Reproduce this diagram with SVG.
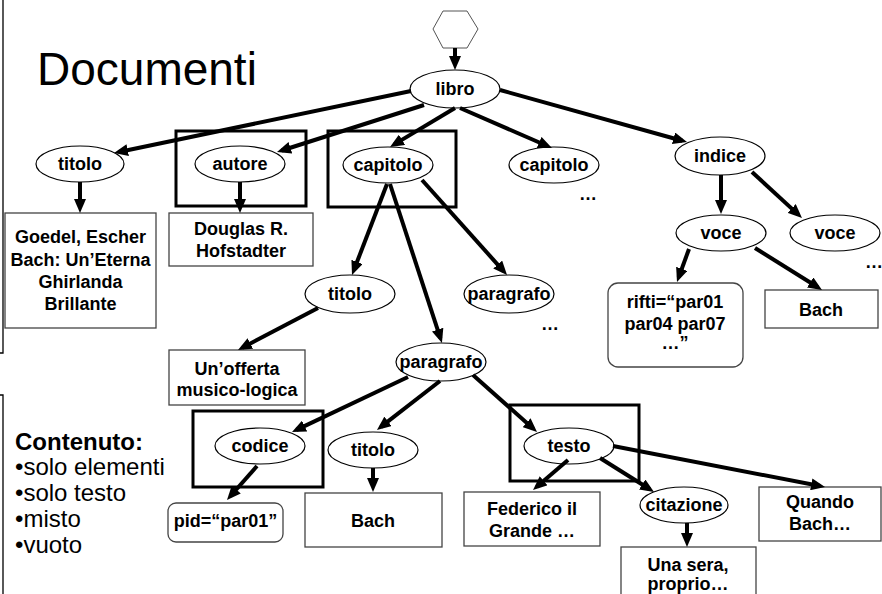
<svg xmlns="http://www.w3.org/2000/svg" width="882" height="594" viewBox="0 0 882 594">
<style>
.el{fill:#fff;stroke:#000;stroke-width:1.2}
.bx{fill:#fff;stroke:#444;stroke-width:1.3}
.hl{fill:none;stroke:#000;stroke-width:3}
.t{font-family:"Liberation Sans",Arial,sans-serif;font-weight:bold;font-size:18px;text-anchor:middle;fill:#000}
.c line{stroke:#000;stroke-width:4;marker-end:url(#ah)}
</style>
<defs>
<marker id="ah" markerUnits="userSpaceOnUse" markerWidth="14" markerHeight="12" refX="9" refY="6" orient="auto">
<path d="M0,0 L14,6 L0,12 z" fill="#000"/>
</marker>
</defs>
<rect width="882" height="594" fill="#fff"/>
<path d="M3,0 V353 H0 M0,395 H3 V594" fill="none" stroke="#000" stroke-width="1.3"/>
<text x="37" y="85" font-family="Liberation Sans,Arial,sans-serif" font-size="46" fill="#000">Documenti</text>
<g id="legend" font-family="Liberation Sans,Arial,sans-serif" font-size="24" fill="#000">
<text x="15" y="450" font-weight="bold">Contenuto:</text>
<text x="15" y="475">•solo elementi</text>
<text x="15" y="501">•solo testo</text>
<text x="15" y="527">•misto</text>
<text x="15" y="553">•vuoto</text>
</g>
<g id="highlights">
<rect class="hl" x="176" y="131" width="130" height="75"/>
<rect class="hl" x="328" y="131" width="128" height="76"/>
<rect class="hl" x="193" y="411" width="130" height="76"/>
<rect class="hl" x="510" y="405" width="129" height="76"/>
</g>
<g id="root"><polygon points="433,29 443,11 467,11 478,29 467,48 443,48" fill="#fff" stroke="#555" stroke-width="1"/></g>
<g id="libro"><ellipse class="el" cx="455" cy="89" rx="45" ry="19"/><text class="t" x="455" y="95">libro</text></g>
<g id="titolo1"><ellipse class="el" cx="80" cy="164" rx="44" ry="18"/><text class="t" x="80" y="170">titolo</text></g>
<g id="autore"><ellipse class="el" cx="240" cy="164" rx="45" ry="18"/><text class="t" x="240" y="170">autore</text></g>
<g id="capitolo1"><ellipse class="el" cx="388" cy="165" rx="45" ry="18"/><text class="t" x="388" y="171">capitolo</text></g>
<g id="capitolo2"><ellipse class="el" cx="554" cy="165" rx="45" ry="18"/><text class="t" x="554" y="171">capitolo</text><text class="t" x="588" y="200">…</text></g>
<g id="indice"><ellipse class="el" cx="720" cy="156" rx="45" ry="19"/><text class="t" x="720" y="162">indice</text></g>
<g id="voce1"><ellipse class="el" cx="721" cy="233" rx="45" ry="18"/><text class="t" x="721" y="239">voce</text></g>
<g id="voce2"><ellipse class="el" cx="835" cy="233" rx="45" ry="18"/><text class="t" x="835" y="239">voce</text><text class="t" x="874" y="268">…</text></g>
<g id="goedel"><rect class="bx" x="5" y="213" width="151" height="115"/><text class="t" x="80.5" y="243">Goedel, Escher</text><text class="t" x="80.5" y="266">Bach: Un’Eterna</text><text class="t" x="80.5" y="288">Ghirlanda</text><text class="t" x="80.5" y="310">Brillante</text></g>
<g id="douglas"><rect class="bx" x="169" y="213" width="144" height="53"/><text class="t" x="241" y="235">Douglas R.</text><text class="t" x="241" y="257">Hofstadter</text></g>
<g id="rifti"><rect class="bx" x="608" y="283" width="135" height="84" rx="10"/><text class="t" x="675" y="308">rifti=“par01</text><text class="t" x="675" y="330">par04 par07</text><text class="t" x="675" y="349">…”</text></g>
<g id="bach1"><rect class="bx" x="765" y="290" width="113" height="38"/><text class="t" x="821" y="316">Bach</text></g>
<g id="titolo2"><ellipse class="el" cx="350" cy="294" rx="45" ry="19"/><text class="t" x="350" y="300">titolo</text></g>
<g id="paragrafo1"><ellipse class="el" cx="509" cy="294" rx="45" ry="19"/><text class="t" x="509" y="300">paragrafo</text><text class="t" x="550" y="330">…</text></g>
<g id="offerta"><rect class="bx" x="169" y="350" width="136" height="55"/><text class="t" x="237" y="375">Un’offerta</text><text class="t" x="237" y="396">musico-logica</text></g>
<g id="paragrafo2"><ellipse class="el" cx="441" cy="362" rx="45" ry="19"/><text class="t" x="441" y="368">paragrafo</text></g>
<g id="codice"><ellipse class="el" cx="260" cy="446" rx="45" ry="18"/><text class="t" x="260" y="452">codice</text></g>
<g id="titolo3"><ellipse class="el" cx="373" cy="450" rx="45" ry="18"/><text class="t" x="373" y="456">titolo</text></g>
<g id="testo"><ellipse class="el" cx="569" cy="446" rx="45" ry="18"/><text class="t" x="569" y="452">testo</text></g>
<g id="pid"><rect class="bx" x="168" y="503" width="115" height="39" rx="8"/><text class="t" x="225.5" y="527">pid=“par01”</text></g>
<g id="bach2"><rect class="bx" x="305" y="493" width="137" height="54"/><text class="t" x="373" y="527">Bach</text></g>
<g id="federico"><rect class="bx" x="464" y="492" width="136" height="54"/><text class="t" x="532" y="515">Federico il</text><text class="t" x="532" y="537">Grande …</text></g>
<g id="citazione"><ellipse class="el" cx="684" cy="505" rx="44" ry="18"/><text class="t" x="684" y="511">citazione</text></g>
<g id="quando"><rect class="bx" x="759" y="487" width="122" height="54"/><text class="t" x="820" y="508">Quando</text><text class="t" x="820" y="530">Bach…</text></g>
<g id="unasera"><rect class="bx" x="621" y="547" width="135" height="50"/><text class="t" x="688" y="571">Una sera,</text><text class="t" x="688" y="590">proprio…</text></g>
<g id="connectors" class="c">
<line x1="455" y1="48" x2="455" y2="65"/>
<line x1="411" y1="91" x2="118.9" y2="152"/>
<line x1="424" y1="105" x2="281.8" y2="150.5"/>
<line x1="455" y1="108" x2="394.3" y2="144.4"/>
<line x1="460" y1="108" x2="547.4" y2="146"/>
<line x1="500" y1="90" x2="682.2" y2="140.7"/>
<line x1="721" y1="175" x2="721" y2="209"/>
<line x1="752" y1="172" x2="798.3" y2="214.6"/>
<line x1="689" y1="249" x2="678.7" y2="277.3"/>
<line x1="755" y1="248" x2="817.8" y2="287.3"/>
<line x1="80" y1="182" x2="80" y2="208"/>
<line x1="240" y1="182" x2="240" y2="208"/>
<line x1="387" y1="184" x2="353.8" y2="270.3"/>
<line x1="390" y1="184" x2="440.4" y2="338.2"/>
<line x1="422" y1="180" x2="503.7" y2="271.3"/>
<line x1="318" y1="308" x2="242.4" y2="347.7"/>
<line x1="408" y1="377" x2="296.5" y2="429.9"/>
<line x1="440" y1="381" x2="380.9" y2="426.9"/>
<line x1="473" y1="375" x2="533.3" y2="428.7"/>
<line x1="257" y1="466" x2="230.3" y2="496.2"/>
<line x1="373" y1="468" x2="373" y2="487"/>
<line x1="568" y1="460" x2="536.8" y2="486.7"/>
<line x1="600" y1="458" x2="649.8" y2="489.3"/>
<line x1="613" y1="446" x2="820.1" y2="486"/>
<line x1="687" y1="523" x2="687" y2="542"/>
</g>
</svg>
